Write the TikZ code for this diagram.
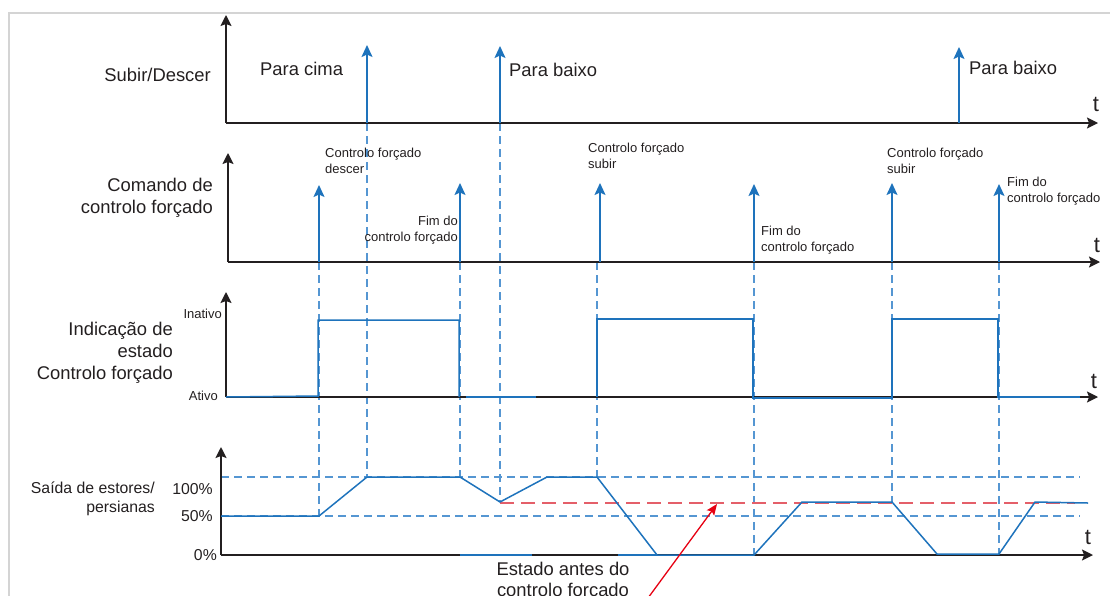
\documentclass[tikz,border=0pt]{standalone}
\usepackage{fontspec}
\setmainfont{Liberation Sans}
\usetikzlibrary{arrows.meta}
\definecolor{ink}{RGB}{35,31,32}
\definecolor{sigblue}{RGB}{30,115,188}
\definecolor{dashblue}{RGB}{85,150,210}
\definecolor{reddash}{RGB}{228,95,105}
\definecolor{redarrow}{RGB}{230,0,18}
\definecolor{framegray}{RGB}{212,212,212}
\begin{document}
\begin{tikzpicture}[x=1pt,y=-1pt,
  axisline/.style={draw=ink, line width=1.6pt, -{Stealth[length=11pt,width=11pt,inset=2pt]}},
  plainaxis/.style={draw=ink, line width=1.6pt},
  pulse/.style={draw=sigblue, line width=1.6pt, -{Stealth[length=12pt,width=11pt,inset=2.5pt]}},
  wave/.style={draw=sigblue, line width=1.5pt, line join=miter},
  guide/.style={draw=dashblue, line width=1.3pt, dash pattern=on 8pt off 5pt},
  prevline/.style={draw=reddash, line width=1.3pt, dash pattern=on 14pt off 7pt},
  big/.style={font=\fontsize{18.4}{22}\selectfont, text=ink, inner sep=0pt},
  mid/.style={font=\fontsize{15.8}{19}\selectfont, text=ink, inner sep=0pt},
  small/.style={font=\fontsize{13}{16}\selectfont, text=ink, inner sep=0pt},
  tlabel/.style={font=\fontsize{22}{24}\selectfont, text=ink, inner sep=0pt}
]
\useasboundingbox (0,0) rectangle (1110,595);
% frame
\draw[framegray, line width=2pt] (9,600) -- (9,13) -- (1115,13);

% ---------- vertical guide lines ----------
\draw[guide] (319,262) -- (319,516);
\draw[guide] (367,123) -- (367,477);
\draw[guide] (460,262) -- (460,477);
\draw[guide] (500,123) -- (500,502);
\draw[guide] (597,262) -- (597,477);
\draw[guide] (754,262) -- (754,555);
\draw[guide] (892,262) -- (892,502);
\draw[guide] (999,262) -- (999,554);
% horizontal guides
\draw[guide] (221,477) -- (1080,477);
\draw[guide] (221,516) -- (1080,516);
\draw[prevline] (500,503) -- (1075,503);

% ---------- axes ----------
\coordinate (o1) at (226,123); \coordinate (y1) at (226,15); \coordinate (x1) at (1098,123);
\coordinate (o2) at (228,262); \coordinate (y2) at (228,153); \coordinate (x2) at (1100,262);
\coordinate (o3) at (226,397); \coordinate (y3) at (226,292); \coordinate (x3) at (1098,397);
\coordinate (o4) at (221,555); \coordinate (y4) at (221,447); \coordinate (x4) at (1093,555);
\draw[axisline] (o1) -- (y1);
\draw[axisline] (o1) -- (x1);
\draw[axisline] (o2) -- (y2);
\draw[axisline] (o2) -- (x2);
\draw[axisline] (o3) -- (y3);
\draw[axisline] (o3) -- (x3);
\draw[axisline] (o4) -- (y4);
\draw[axisline] (o4) -- (x4);

\node[tlabel] (t1) at (1096,104) {t};
\node[tlabel] (t2) at (1097,245) {t};
\node[tlabel] (t3) at (1094,381) {t};
\node[tlabel] (t4) at (1088,537) {t};

% ---------- panel 1 ----------
\coordinate (a1b) at (367,123); \coordinate (a1t) at (367,45);
\coordinate (a2b) at (500,123); \coordinate (a2t) at (500,46);
\coordinate (a3b) at (959,123); \coordinate (a3t) at (959,47);
\draw[pulse] (a1b) -- (a1t);
\draw[pulse] (a2b) -- (a2t);
\draw[pulse] (a3b) -- (a3t);
\node[big, anchor=north east] (l1) at (211,68) {Subir/Descer};
\node[big, anchor=north west] (p1) at (260,62) {Para cima};
\node[big, anchor=north west] (p2) at (509,63) {Para baixo};
\node[big, anchor=north west] (p3) at (969,61) {Para baixo};

% ---------- panel 2 ----------
\coordinate (b1b) at (319,262); \coordinate (b1t) at (319,185);
\coordinate (b2b) at (460,262); \coordinate (b2t) at (460,183);
\coordinate (b3b) at (600,262); \coordinate (b3t) at (600,183);
\coordinate (b4b) at (754,262); \coordinate (b4t) at (754,184);
\coordinate (b5b) at (892,262); \coordinate (b5t) at (892,183);
\coordinate (b6b) at (999,262); \coordinate (b6t) at (999,184);
\draw[pulse] (b1b) -- (b1t);
\draw[pulse] (b2b) -- (b2t);
\draw[pulse] (b3b) -- (b3t);
\draw[pulse] (b4b) -- (b4t);
\draw[pulse] (b5b) -- (b5t);
\draw[pulse] (b6b) -- (b6t);
\node[big, anchor=north east, align=right] (l2) at (213,178) {Comando de\\controlo forçado};
\node[small, anchor=north west, align=left] (c1) at (325,148) {Controlo forçado\\descer};
\node[small, anchor=north east, align=right] (c2) at (458,216) {Fim do\\controlo forçado};
\node[small, anchor=north west, align=left] (c3) at (588,143) {Controlo forçado\\subir};
\node[small, anchor=north west, align=left] (c4) at (761,226) {Fim do\\controlo forçado};
\node[small, anchor=north west, align=left] (c5) at (887,148) {Controlo forçado\\subir};
\node[small, anchor=north west, align=left] (c6) at (1007,177) {Fim do\\controlo forçado};

% ---------- panel 3 ----------
\draw[wave] (226,397) -- (318,396) -- (318,320) -- (459,320) -- (459,397);
\draw[wave] (466,397) -- (536,397);
\draw[wave] (597,397) -- (597,319) -- (753,319) -- (753,398) -- (892,398) -- (892,319) -- (998,319) -- (998,397) -- (1080,397);
\node[big, anchor=north east, align=right] (l3) at (173,322) {Indicação de\\estado\\Controlo forçado};
\node[small, anchor=north east] (in) at (222,309) {Inativo};
\node[small, anchor=north east] (at) at (218,391) {Ativo};

% ---------- panel 4 ----------
\draw[wave] (221,516) -- (319,516) -- (367,477) -- (460,477) -- (500,502) -- (547,477) -- (597,477) -- (657,555) -- (754,555) -- (802,502) -- (892,502) -- (937,554) -- (999,554) -- (1035,502) -- (1088,503);
\draw[wave] (460,555) -- (532,555);
\draw[wave] (618,555) -- (657,555);
\node[mid, anchor=north east, align=right] (l4) at (155,482) {Saída de estores/\\persianas};
\node[mid, anchor=north east] (v100) at (213,483) {100\%};
\node[mid, anchor=north east] (v50) at (213,510) {50\%};
\node[mid, anchor=north east] (v0) at (217,549) {0\%};

\node[big, anchor=north, align=center, font=\fontsize{18.4}{20.5}\selectfont] (est) at (563,562) {Estado antes do\\controlo forçado};
\coordinate (rtail) at (648,598);
\coordinate (rtip) at (717,504);
\draw[draw=redarrow, line width=1.3pt, -{Stealth[length=11pt,width=9pt,inset=2pt]}] (rtail) -- (rtip);
\end{tikzpicture}
\end{document}
